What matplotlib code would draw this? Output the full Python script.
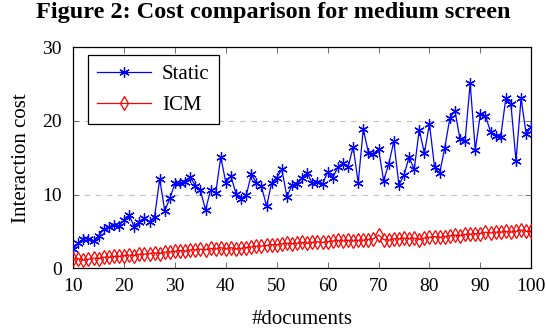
import matplotlib
matplotlib.use("Agg")
import matplotlib.pyplot as plt

plt.rcParams['font.family'] = ['Liberation Serif', 'DejaVu Serif']
plt.rcParams['mathtext.fontset'] = 'stix'

docs = list(range(10, 101))
static = [2.6, 3.4, 4.0, 4.0, 3.7, 4.4, 5.3, 5.6, 5.9, 5.8,
          6.5, 7.2, 5.6, 6.3, 6.8, 6.3, 7.0, 12.1, 7.8, 9.5,
          11.5, 11.5, 11.75, 12.4, 11.2, 10.6, 7.9, 10.6, 10.2, 15.1,
          11.6, 12.5, 10.1, 9.4, 9.9, 12.75, 11.6, 11.1, 8.4, 11.6,
          12.3, 13.4, 9.7, 11.3, 11.4, 12.3, 12.9, 11.5, 11.75, 11.4,
          13.1, 12.3, 13.7, 14.25, 13.7, 16.5, 11.6, 18.9, 15.7, 15.5,
          16.15, 11.9, 14.15, 17.2, 11.3, 12.65, 15.1, 13.4, 18.8, 15.6,
          19.6, 13.7, 12.9, 16.3, 20.35, 21.4, 17.5, 17.3, 25.1, 16.05,
          20.9, 20.7, 18.5, 18.0, 17.85, 23.05, 22.3, 14.6, 23.05, 18.2,
          19.2]
icm = [1.2, 1.3, 1.1, 1.2, 1.4, 1.3, 1.5, 1.5, 1.6, 1.6,
       1.7, 1.8, 1.7, 1.9, 1.9, 2.0, 2.1, 2.0, 2.2, 2.2,
       2.3, 2.4, 2.3, 2.5, 2.5, 2.6, 2.5, 2.7, 2.6, 2.8,
       2.6, 2.8, 2.6, 2.7, 2.8, 2.9, 3.0, 3.0, 3.1, 3.2,
       3.2, 3.3, 3.4, 3.3, 3.4, 3.5, 3.4, 3.5, 3.6, 3.5,
       3.6, 3.7, 3.8, 3.7, 3.8, 3.7, 3.8, 3.8, 3.9, 4.0,
       4.5, 3.9, 3.8, 4.0, 4.0, 4.1, 4.0, 4.1, 3.9, 4.1,
       4.2, 4.3, 4.2, 4.3, 4.4, 4.5, 4.4, 4.6, 4.6, 4.7,
       4.7, 4.9, 4.8, 4.9, 4.9, 5.0, 4.9, 5.0, 5.2, 5.0,
       5.0]
xticks = [10, 20, 30, 40, 50, 60, 70, 80, 90, 100]
yticks = [0, 10, 20, 30]

fig = plt.figure(figsize=(5.46, 3.32), dpi=100)
ax = fig.add_axes([0.134, 0.192, 0.839, 0.666])

ax.plot(docs, static, color='blue', lw=0.9, marker=(6, 2, 0), ms=7.5,
        mew=0.9, label='Static', zorder=3)
ax.plot(docs, icm, color='red', lw=0.9, marker='d', ms=7.5, mfc='none',
        mew=0.9, label='ICM', zorder=3)

ax.set_xlim(10, 100)
ax.set_ylim(0, 30)
ax.set_xticks(xticks)
ax.set_yticks(yticks)
ax.tick_params(direction='in', top=True, right=True, labelsize=14,
               length=4, width=0.6, color='#555555')
ax.tick_params(axis='x', pad=7)
ax.tick_params(axis='y', pad=8)
ax.yaxis.grid(True, linestyle=(0, (5, 5)), color='#c0c0c0', lw=0.8)
ax.set_axisbelow(True)
for s in ax.spines.values():
    s.set_linewidth(0.9)

ax.set_xlabel('#documents', fontsize=15, labelpad=11)
ax.set_ylabel('Interaction cost', fontsize=15, labelpad=8)

leg = ax.legend(loc='upper left', fontsize=15, fancybox=False,
                edgecolor='black', framealpha=1, borderpad=0.45,
                handlelength=2.6, labelspacing=0.55, handletextpad=0.5,
                bbox_to_anchor=(0.032, 0.964), borderaxespad=0)
leg.get_frame().set_linewidth(0.9)

fig.suptitle('Figure 2: Cost comparison for medium screen', fontsize=17.5,
             fontweight='bold', y=0.995)

fig.savefig('out.png', dpi=100)
